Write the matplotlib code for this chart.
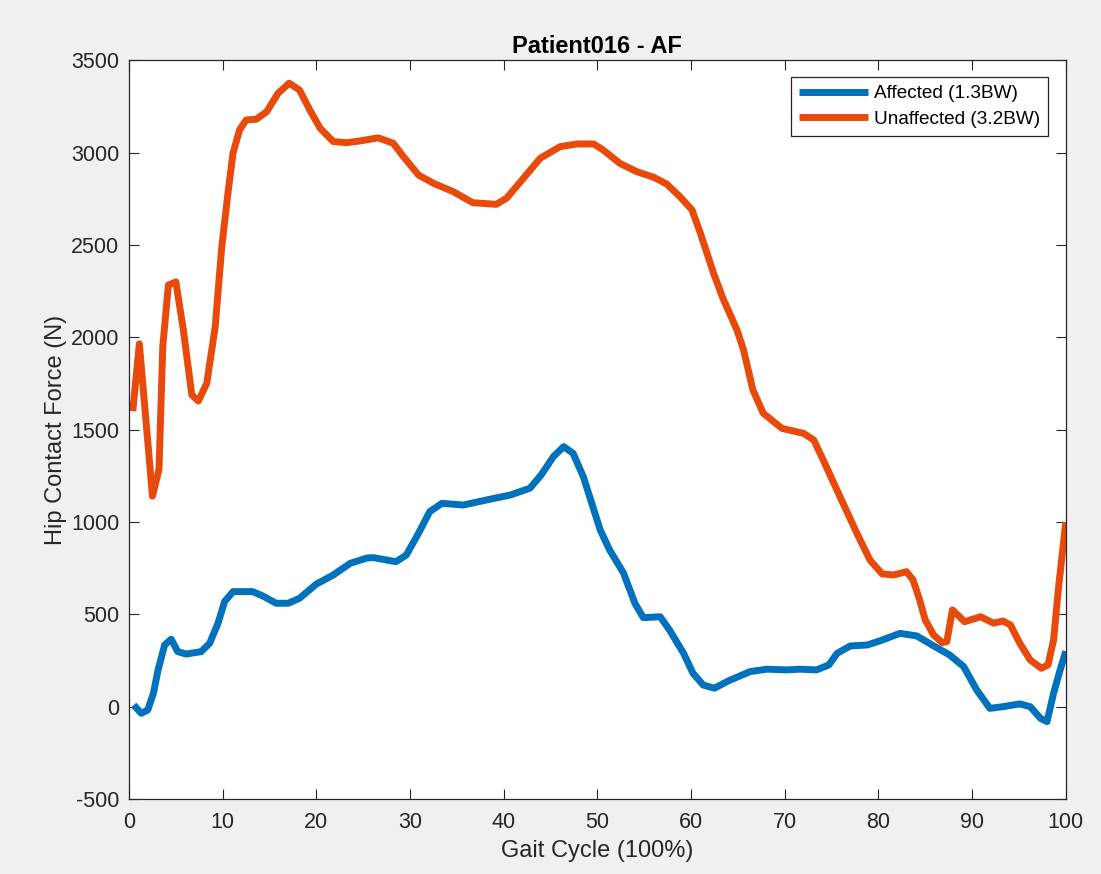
import matplotlib
matplotlib.use('Agg')
import matplotlib.pyplot as plt

# gait cycle (%) and hip contact force (N) for each leg
gait_unaff = [0.4, 1.1, 2.5, 3.2, 3.6, 4.2, 5.0, 5.8, 6.7, 7.4, 8.3, 9.2, 9.9,
              10.6, 11.1, 11.8, 12.5, 13.6, 14.7, 15.9, 17.1, 18.2, 19.3, 20.4,
              21.8, 23.2, 24.6, 26.6, 28.2, 29.3, 30.9, 32.5, 34.6, 36.7, 39.2,
              40.3, 42.1, 43.9, 46.0, 47.8, 49.6, 50.6, 52.4, 54.2, 56.0, 57.4,
              58.8, 60.1, 61.0, 62.4, 63.4, 64.9, 65.6, 66.6, 67.7, 69.7, 72.0,
              73.1, 74.1, 75.9, 77.7, 79.1, 80.4, 81.6, 83.0, 83.7, 84.4, 85.0,
              85.9, 86.8, 87.3, 87.9, 89.2, 90.9, 92.3, 93.3, 94.1, 95.1, 96.2,
              97.4, 98.1, 98.7, 99.2, 100.0]
force_unaff = [1600, 1965, 1140, 1285, 1950, 2283, 2300, 2040, 1688, 1655, 1751,
               2058, 2491, 2798, 2997, 3123, 3177, 3181, 3222, 3321, 3376, 3339,
               3231, 3132, 3060, 3054, 3063, 3080, 3051, 2978, 2879, 2834, 2789,
               2729, 2720, 2753, 2861, 2970, 3032, 3047, 3047, 3015, 2942, 2897,
               2867, 2830, 2762, 2690, 2563, 2347, 2211, 2040, 1932, 1715, 1589,
               1507, 1480, 1444, 1336, 1137, 939, 794, 719, 713, 731, 686, 578,
               469, 388, 347, 352, 524, 460, 487, 452, 464, 442, 343, 253, 208,
               226, 361, 632, 1000]

gait_aff = [0.5, 1.3, 2.0, 2.6, 3.1, 3.8, 4.5, 5.2, 6.1, 7.7, 8.6, 9.5, 10.2,
            11.1, 13.2, 14.3, 15.7, 17.0, 18.2, 20.0, 21.8, 23.6, 25.4, 26.1,
            28.5, 29.6, 30.9, 32.1, 33.4, 35.7, 38.5, 40.7, 42.8, 44.0, 45.3,
            46.4, 47.4, 48.5, 49.4, 50.3, 51.3, 52.8, 54.0, 54.9, 55.6, 56.7,
            57.7, 59.2, 60.2, 61.3, 62.5, 64.0, 66.3, 68.1, 70.2, 71.6, 73.4,
            74.7, 75.6, 77.0, 78.8, 80.2, 82.3, 84.1, 85.9, 87.6, 89.1, 90.5,
            91.9, 93.3, 95.1, 96.2, 97.3, 98.0, 98.7, 99.4, 100.0]
force_aff = [9, -36, -18, 72, 199, 334, 365, 298, 285, 298, 343, 452, 569, 623,
             623, 599, 560, 560, 587, 664, 713, 776, 805, 807, 785, 821, 939,
             1056, 1101, 1092, 1123, 1146, 1183, 1255, 1354, 1408, 1372, 1245,
             1101, 957, 849, 722, 560, 482, 484, 487, 415, 289, 181, 117, 100,
             140, 190, 203, 199, 203, 199, 226, 289, 329, 334, 357, 397, 383,
             329, 280, 217, 90, -9, 0, 15, 0, -63, -81, 73, 199, 300]

labels = ['Affected (1.3BW)', 'Unaffected (3.2BW)']
colors = ['#0072BD', '#E84A0C']

plt.rcParams['font.family'] = ['Liberation Sans', 'DejaVu Sans']
plt.rcParams['axes.unicode_minus'] = False

fig = plt.figure(figsize=(11.01, 8.74), dpi=100, facecolor='#f0f0f0')
ax = fig.add_axes([0.1172, 0.0858, 0.8508, 0.8452])
ax.set_facecolor('white')

ax.plot(gait_aff, force_aff, color=colors[0], lw=5, label=labels[0],
        solid_joinstyle='round', solid_capstyle='butt')
ax.plot(gait_unaff, force_unaff, color=colors[1], lw=5, label=labels[1],
        solid_joinstyle='round', solid_capstyle='butt')

ax.set_xlim(0, 100)
ax.set_ylim(-500, 3500)
ax.set_xticks(range(0, 101, 10))
ax.set_yticks(range(-500, 3501, 500))

ax.tick_params(direction='in', length=7, width=0.8, top=True, right=True,
               labelsize=15.5, colors='#262626', pad=7)
ax.tick_params(axis='x', pad=9.5)
for s in ax.spines.values():
    s.set_color('#262626')
    s.set_linewidth(0.9)

ax.set_xlabel('Gait Cycle (100%)', fontsize=17, color='#262626', labelpad=5)
ax.set_ylabel('Hip Contact Force (N)', fontsize=17, color='#262626', labelpad=3)
ax.set_title('Patient016 - AF', fontsize=17, fontweight='bold', pad=5)

leg = ax.legend(loc='upper right', bbox_to_anchor=(0.981, 0.977), fontsize=13.7,
                fancybox=False, framealpha=1, edgecolor='#262626',
                handlelength=3.6, handletextpad=0.35, borderpad=0.4,
                labelspacing=0.45, borderaxespad=0)
leg.get_frame().set_linewidth(0.9)

fig.savefig('out.png', dpi=100, facecolor=fig.get_facecolor())
